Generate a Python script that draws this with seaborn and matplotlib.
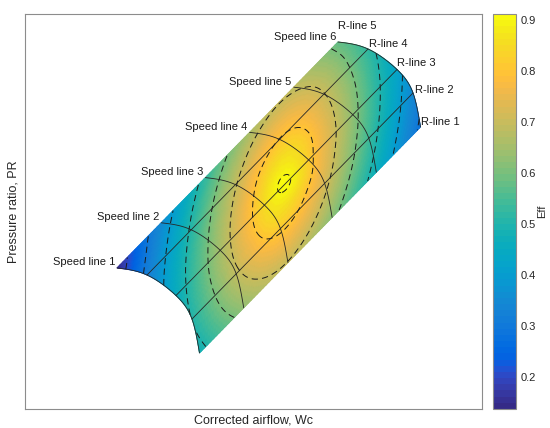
import numpy as np
import pandas as pd
import matplotlib
matplotlib.use("Agg")
import matplotlib.pyplot as plt
from matplotlib.colors import ListedColormap
import seaborn as sns

sns.set_theme(style="white")
plt.rcParams["font.family"] = ["Liberation Sans", "DejaVu Sans"]
plt.rcParams["lines.scale_dashes"] = False

# MATLAB "parula" colour map (64 entries)
PARULA = [
    [0.2081, 0.1663, 0.5292], [0.2116, 0.1898, 0.5777], [0.2123, 0.2138, 0.6270], [0.2081, 0.2386, 0.6771],
    [0.1959, 0.2645, 0.7279], [0.1707, 0.2919, 0.7792], [0.1253, 0.3242, 0.8303], [0.0591, 0.3598, 0.8683],
    [0.0117, 0.3875, 0.8820], [0.0060, 0.4086, 0.8828], [0.0165, 0.4266, 0.8786], [0.0329, 0.4430, 0.8720],
    [0.0498, 0.4586, 0.8641], [0.0629, 0.4737, 0.8554], [0.0723, 0.4887, 0.8467], [0.0779, 0.5040, 0.8384],
    [0.0793, 0.5200, 0.8312], [0.0749, 0.5375, 0.8263], [0.0641, 0.5570, 0.8240], [0.0488, 0.5772, 0.8228],
    [0.0343, 0.5966, 0.8199], [0.0265, 0.6137, 0.8135], [0.0239, 0.6287, 0.8038], [0.0231, 0.6418, 0.7913],
    [0.0228, 0.6535, 0.7768], [0.0267, 0.6642, 0.7607], [0.0384, 0.6743, 0.7436], [0.0590, 0.6838, 0.7254],
    [0.0843, 0.6928, 0.7062], [0.1133, 0.7015, 0.6859], [0.1453, 0.7098, 0.6646], [0.1801, 0.7177, 0.6424],
    [0.2178, 0.7250, 0.6193], [0.2586, 0.7317, 0.5954], [0.3022, 0.7376, 0.5712], [0.3482, 0.7424, 0.5473],
    [0.3953, 0.7459, 0.5244], [0.4420, 0.7481, 0.5033], [0.4871, 0.7491, 0.4840], [0.5300, 0.7491, 0.4661],
    [0.5709, 0.7485, 0.4494], [0.6099, 0.7473, 0.4337], [0.6473, 0.7456, 0.4188], [0.6834, 0.7435, 0.4044],
    [0.7184, 0.7411, 0.3905], [0.7525, 0.7384, 0.3768], [0.7858, 0.7356, 0.3633], [0.8185, 0.7327, 0.3498],
    [0.8507, 0.7299, 0.3360], [0.8824, 0.7274, 0.3217], [0.9139, 0.7258, 0.3063], [0.9450, 0.7261, 0.2886],
    [0.9739, 0.7314, 0.2666], [0.9938, 0.7455, 0.2403], [0.9990, 0.7653, 0.2164], [0.9955, 0.7861, 0.1967],
    [0.9880, 0.8066, 0.1794], [0.9789, 0.8271, 0.1633], [0.9697, 0.8481, 0.1475], [0.9626, 0.8705, 0.1309],
    [0.9589, 0.8949, 0.1132], [0.9598, 0.9218, 0.0948], [0.9661, 0.9514, 0.0755], [0.9763, 0.9831, 0.0538],
]
cmap = ListedColormap(PARULA, name="parula")

# ---------------- data ----------------
speed_labels = ["Speed line 1", "Speed line 2", "Speed line 3", "Speed line 4", "Speed line 5", "Speed line 6"]
rline_labels = ["R-line 1", "R-line 2", "R-line 3", "R-line 4", "R-line 5"]

# corrected airflow at the map nodes (rows: speed line 1..6, columns: R-line 1..5)
wc_nodes = [
    [38.18, 36.54, 33.04, 26.70, 20.13],
    [47.86, 46.21, 42.71, 36.37, 29.80],
    [57.53, 55.89, 52.39, 46.04, 39.47],
    [67.20, 65.56, 62.06, 55.71, 49.15],
    [76.87, 75.23, 71.73, 65.38, 58.82],
    [86.54, 84.90, 81.40, 75.05, 68.49],
]
# pressure ratio at the map nodes
pr_nodes = [
    [14.18, 22.78, 28.73, 33.92, 35.70],
    [25.62, 34.23, 40.18, 45.37, 47.14],
    [37.06, 45.67, 51.62, 56.81, 58.58],
    [48.51, 57.11, 63.06, 68.25, 70.03],
    [59.95, 68.56, 74.51, 79.70, 81.47],
    [71.39, 80.00, 85.95, 91.14, 92.91],
]
# efficiency at half-step nodes (rows: speed 1, 1.5, ..., 6; columns: R 1, 1.5, ..., 5)
eff_nodes = [
    [0.476, 0.496, 0.502, 0.489, 0.454, 0.394, 0.318, 0.236, 0.145],
    [0.558, 0.585, 0.596, 0.587, 0.555, 0.494, 0.415, 0.336, 0.259],
    [0.628, 0.666, 0.687, 0.685, 0.654, 0.592, 0.511, 0.430, 0.352],
    [0.679, 0.729, 0.767, 0.778, 0.754, 0.690, 0.605, 0.521, 0.441],
    [0.696, 0.757, 0.813, 0.854, 0.851, 0.784, 0.693, 0.606, 0.526],
    [0.674, 0.734, 0.791, 0.849, 0.907, 0.861, 0.767, 0.681, 0.601],
    [0.621, 0.673, 0.721, 0.769, 0.822, 0.850, 0.803, 0.733, 0.661],
    [0.549, 0.593, 0.634, 0.675, 0.724, 0.768, 0.774, 0.743, 0.694],
    [0.467, 0.505, 0.540, 0.578, 0.624, 0.673, 0.703, 0.707, 0.687],
    [0.378, 0.412, 0.444, 0.479, 0.524, 0.575, 0.616, 0.640, 0.645],
    [0.287, 0.317, 0.346, 0.380, 0.424, 0.476, 0.523, 0.558, 0.579],
]
eff_levels = [0.2, 0.3, 0.4, 0.5, 0.6, 0.7, 0.8, 0.9]
eff_ticks = [0.2, 0.3, 0.4, 0.5, 0.6, 0.7, 0.8, 0.9]
eff_clim = [0.138, 0.912]


def spline_matrix(n, t):
    """Natural cubic spline weights on uniform nodes 0..n-1, evaluated at t."""
    t = np.asarray(t, float)
    A = np.zeros((n, n))
    A[0, 0] = A[-1, -1] = 1.0
    for i in range(1, n - 1):
        A[i, i - 1:i + 2] = [1.0, 4.0, 1.0]
    out = np.zeros((len(t), n))
    idx = np.clip(np.floor(t).astype(int), 0, n - 2)
    u = t - idx
    for j in range(n):
        y = np.zeros(n)
        y[j] = 1.0
        b = np.zeros(n)
        b[1:-1] = 6 * (y[2:] - 2 * y[1:-1] + y[:-2])
        m = np.linalg.solve(A, b)
        out[:, j] = ((1 - u) * y[idx] + u * y[idx + 1]
                     + ((1 - u) ** 3 - (1 - u)) * m[idx] / 6 + (u ** 3 - u) * m[idx + 1] / 6)
    return out


WC = np.array(wc_nodes)
PR = np.array(pr_nodes)
EF = np.array(eff_nodes)

# smooth rendering grid through the nodes
ts = np.linspace(0, 5, 151)
tr = np.linspace(0, 4, 121)
Ms, Mr = spline_matrix(6, ts), spline_matrix(5, tr)
X = Ms @ WC @ Mr.T
Y = Ms @ PR @ Mr.T
E = spline_matrix(11, ts * 2) @ EF @ spline_matrix(9, tr * 2).T

fig = plt.figure(figsize=(5.5, 4.28), dpi=100)
ax = fig.add_axes([25 / 550, 19 / 428, 457 / 550, 395 / 428])
cax = fig.add_axes([493 / 550, 19 / 428, 23 / 550, 395 / 428])

mesh = ax.pcolormesh(X, Y, E, shading="gouraud", cmap=cmap, vmin=eff_clim[0], vmax=eff_clim[1])
cs = ax.contour(X, Y, E, levels=eff_levels, colors="k", linewidths=0.7)
cs.set_linestyle((0, (4.5, 3.0)))

rows = []
for k in range(6):
    for j in range(len(tr)):
        rows.append({"line": f"s{k}", "Wc": X[k * 30, j], "PR": Y[k * 30, j]})
for r in [1, 2, 3]:
    for i in range(len(ts)):
        rows.append({"line": f"r{r}", "Wc": X[i, r * 30], "PR": Y[i, r * 30]})
df = pd.DataFrame(rows)
sns.lineplot(data=df, x="Wc", y="PR", units="line", estimator=None, sort=False,
             color="0.15", linewidth=0.6, legend=False, ax=ax)

txt = dict(fontsize=8, color="0.1", textcoords="offset points")
for k, lab in enumerate(speed_labels):
    ax.annotate(lab, xy=(WC[k, 4], PR[k, 4]), xytext=(-1.5, 1.8), ha="right", va="baseline", **txt)
r_off = [(0.4, 1.4), (1.4, 0.0), (0.0, 2.5), (0.7, 1.4), (0.0, 9.4)]
for j, lab in enumerate(rline_labels):
    ax.annotate(lab, xy=(WC[5, j], PR[5, j]), xytext=r_off[j], ha="left", va="baseline", **txt)

ax.set_xlim(0, 100)
ax.set_ylim(0, 100)
ax.set_xticks([])
ax.set_yticks([])
ax.set_xlabel("Corrected airflow, Wc", fontsize=9, color="0.15", labelpad=4)
ax.set_ylabel("Pressure ratio, PR", fontsize=9, color="0.15", labelpad=4)
for sp in ax.spines.values():
    sp.set_color("0.55")
    sp.set_linewidth(0.8)

cb = fig.colorbar(mesh, cax=cax, ticks=eff_ticks)
cb.outline.set_edgecolor("0.55")
cb.outline.set_linewidth(0.8)
cax.tick_params(direction="in", length=3, width=0.6, color="0.15", labelsize=8, labelcolor="0.15")
cb.set_label("Eff", fontsize=8, color="0.15", labelpad=0.5)

fig.savefig("out.png", dpi=100)
